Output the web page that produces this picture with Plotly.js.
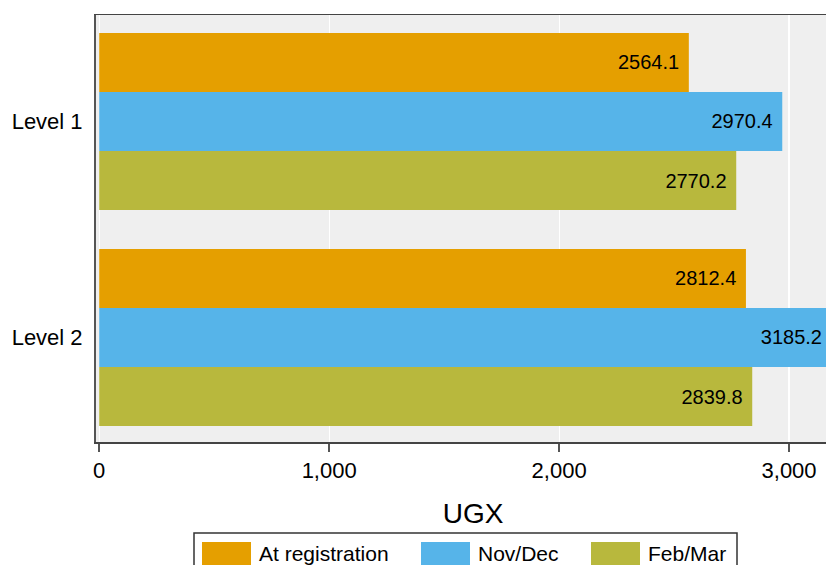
<!DOCTYPE html>
<html>
<head>
<meta charset="utf-8">
<script src="https://cdn.plot.ly/plotly-3.0.1.min.js"></script>
<style>
html, body { margin: 0; padding: 0; overflow: hidden; background: #fff; }
#chart { width: 850px; height: 565px; }
</style>
</head>
<body>
<div id="chart"></div>
<script>
// Data
const categories = ['Level 1', 'Level 2'];
const seriesNames = ['At registration', 'Nov/Dec', 'Feb/Mar'];
const atRegistration = [2564.1, 2812.4];
const novDec = [2970.4, 3185.2];
const febMar = [2770.2, 2839.8];
const xTickVals = [0, 1000, 2000, 3000];
const xTickText = ['0', '1,000', '2,000', '3,000'];

const seriesValues = [atRegistration, novDec, febMar];
const colors = ['#E59F00', '#56B4E9', '#B8B83D'];
const FONT = 'Liberation Sans, Arial, Helvetica, sans-serif';
const PAD = '\u2004';

const W = 850, H = 565;
const ML = 96, MR = 0, MT = 15, MB = 123;

const traces = seriesValues.map((vals, i) => ({
  type: 'bar',
  orientation: 'h',
  name: seriesNames[i],
  y: categories,
  x: vals,
  marker: { color: colors[i], line: { width: 0 } },
  text: vals.map(v => v.toFixed(1) + PAD),
  textposition: 'inside',
  insidetextanchor: 'end',
  textfont: { family: FONT, size: 20, color: '#000' },
  cliponaxis: true,
  hoverinfo: 'x+name'
}));

// Custom legend (wide swatches), built from the series arrays
const pw = W - ML - MR, ph = H - MT - MB;
const px2x = p => (p - ML) / pw;
const px2y = p => (H - MB - p) / ph;
const swatchLeft = [202, 421, 591];
const shapes = [{
  type: 'rect', xref: 'paper', yref: 'paper',
  x0: px2x(194), x1: px2x(737), y0: px2y(580), y1: px2y(533),
  line: { color: '#333', width: 1.5 }, fillcolor: 'rgba(0,0,0,0)'
}];
const annotations = [];
seriesNames.forEach((nm, i) => {
  shapes.push({
    type: 'rect', xref: 'paper', yref: 'paper',
    x0: px2x(swatchLeft[i]), x1: px2x(swatchLeft[i] + 49),
    y0: px2y(575), y1: px2y(542),
    line: { width: 0 }, fillcolor: colors[i]
  });
  annotations.push({
    xref: 'paper', yref: 'paper',
    x: px2x(swatchLeft[i] + 55), y: px2y(553),
    xanchor: 'left', yanchor: 'middle',
    text: nm, showarrow: false,
    font: { family: FONT, size: 21, color: '#000' }
  });
});

const layout = {
  width: W, height: H,
  margin: { l: ML, r: MR, t: MT, b: MB, pad: 0 },
  paper_bgcolor: '#fff',
  plot_bgcolor: '#efefef',
  barmode: 'group',
  bargap: 0.18,
  bargroupgap: 0,
  showlegend: false,
  font: { family: FONT, size: 22, color: '#000' },
  xaxis: {
    range: [-14, 3265],
    tickvals: xTickVals,
    ticktext: xTickText,
    ticks: 'outside', ticklen: 8, tickwidth: 1.5, tickcolor: '#555',
    showgrid: true, gridcolor: '#fff', gridwidth: 1.2,
    zeroline: true, zerolinecolor: '#fff', zerolinewidth: 1.2,
    showline: true, linecolor: '#444', linewidth: 1.5, mirror: true,
    tickfont: { family: FONT, size: 22, color: '#000' },
    title: { text: 'UGX', font: { family: FONT, size: 28, color: '#000' }, standoff: 21 },
    automargin: false,
    fixedrange: true
  },
  yaxis: {
    type: 'category',
    categoryorder: 'array', categoryarray: categories,
    range: [1.484, -0.493],
    ticks: '', showgrid: false, zeroline: false,
    showline: true, linecolor: '#555', linewidth: 2,
    ticklabelstandoff: 7,
    tickfont: { family: FONT, size: 22, color: '#000' },
    automargin: false,
    fixedrange: true
  },
  shapes: shapes,
  annotations: annotations
};

Plotly.newPlot('chart', traces, layout, { displayModeBar: false, staticPlot: true });
</script>
</body>
</html>
